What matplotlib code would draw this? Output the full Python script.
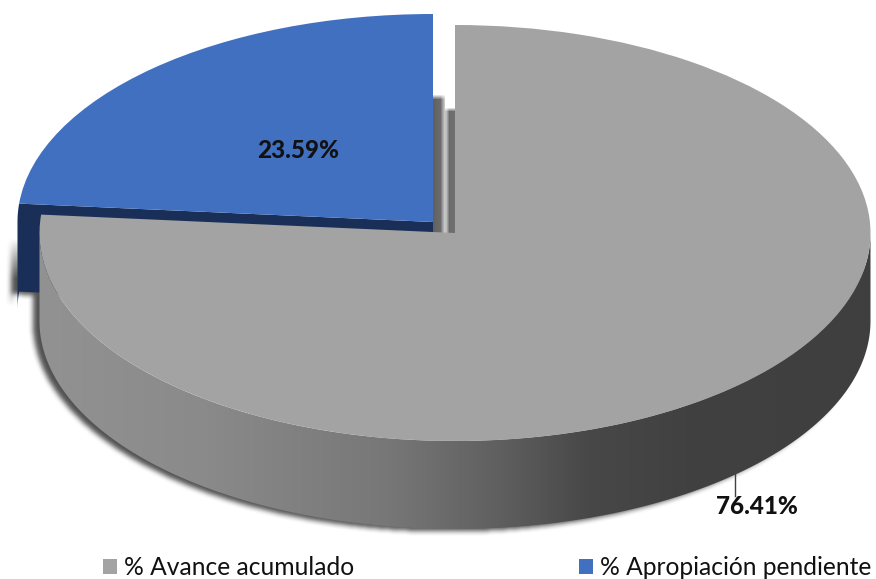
import numpy as np
import matplotlib
matplotlib.use("Agg")
import matplotlib.pyplot as plt
from matplotlib.colors import LinearSegmentedColormap
from matplotlib.patches import Patch, Polygon
from matplotlib.path import Path
from matplotlib.transforms import Affine2D

# ---- data ----
categories = ["% Avance acumulado", "% Apropiación pendiente"]
values = [76.41, 23.59]
colors = ["#a3a3a3", "#4170c1"]

# ---- geometry / style ----
W, H = 876, 579
RX, RY, DEPTH = 415.5, 208, 88
C_GREY = (455, 233)
C_BLUE = (433, 222)
DARK_BLUE = "#1a2f58"
plt.rcParams["font.family"] = ["Lato", "DejaVu Sans"]

fig = plt.figure(figsize=(W / 100, H / 100), dpi=100)
ax = fig.add_axes([0, 0, 1, 1])

wedges, _ = ax.pie(values, colors=colors, startangle=90, counterclock=False,
                   wedgeprops={"linewidth": 0})
ax.set_aspect("auto")
ax.set_xlim(0, W)
ax.set_ylim(H, 0)
ax.axis("off")

for w, c in zip(wedges, (C_GREY, C_BLUE)):
    w.set_transform(Affine2D().scale(RX, -RY).translate(*c) + ax.transData)
    w.set_zorder(6)


def ell(c, th):
    th = np.radians(th)
    return np.column_stack([c[0] + RX * np.cos(th), c[1] - RY * np.sin(th)])


split = 90 + 360 * values[1] / sum(values)   # angle of the slice boundary

# outer wall of the grey slice
th_front = np.linspace(180, 360, 200)
top = ell(C_GREY, th_front)
grey_wall = np.vstack([top, (top + [0, DEPTH])[::-1]])

# visible walls of the blue slice
p_edge = ell(C_BLUE, np.array([split]))[0]
blue_arc = ell(C_BLUE, np.linspace(split, 180, 10))
blue_wall = np.vstack([[C_BLUE], [p_edge],
                       blue_arc,
                       (blue_arc + [0, DEPTH])[::-1],
                       [np.array(C_BLUE) + [0, DEPTH]]])
ax.add_patch(Polygon(blue_wall, closed=True, fc=DARK_BLUE, ec="none", zorder=3))

# gradient on grey wall
cmap = LinearSegmentedColormap.from_list("wall", [
    (0.00, "#929292"), (0.20, "#8a8a8a"), (0.42, "#777777"),
    (0.55, "#606060"), (0.66, "#484848"), (0.78, "#414141"), (1.00, "#3f3f3f")])
im = ax.imshow(np.linspace(0, 1, 512)[None, :], cmap=cmap, aspect="auto",
               extent=(39, 871, 560, 200), zorder=4)
clip = Polygon(grey_wall, closed=True, transform=ax.transData)
im.set_clip_path(clip)
ax.set_xlim(0, W)
ax.set_ylim(H, 0)

# soft shadow behind the solid
yy, xx = np.mgrid[0:H, 0:W]
pts = np.column_stack([xx.ravel() + 8, yy.ravel() - 1])
mask = (Path(grey_wall).contains_points(pts) |
        Path(blue_wall).contains_points(pts)).reshape(H, W).astype(float)
kernel = np.ones(6) / 6
for _ in range(2):
    mask = np.apply_along_axis(lambda r: np.convolve(r, kernel, "same"), 0, mask)
    mask = np.apply_along_axis(lambda r: np.convolve(r, kernel, "same"), 1, mask)
rgba = np.zeros((H, W, 4))
rgba[..., :3] = 0.25
rgba[..., 3] = mask * 0.9 * np.clip((yy - 238) / 40, 0, 1)
ax.imshow(rgba, extent=(0, W, H, 0), aspect="auto", zorder=2)
ax.set_xlim(0, W)
ax.set_ylim(H, 0)

# shaded gap between the separated slices
gx = np.arange(433, 456)
gy = np.arange(90, 234)
shade = np.interp(gx, [433, 440, 444, 446, 449, 455],
                  [0.38, 0.42, 0.78, 0.74, 0.42, 0.44])
fade_a = np.clip((gy - 94) / 5, 0, 1)
fade_b = np.clip((gy - 107) / 4, 0, 1)
gap = np.ones((gy.size, gx.size))
for i, x in enumerate(gx):
    f = fade_a if x < 445 else fade_b
    gap[:, i] = 1 - (1 - shade[i]) * f
ax.imshow(gap, cmap="gray", vmin=0, vmax=1, aspect="auto",
          extent=(433, 456, 234, 90), zorder=3, interpolation="bilinear")
ax.set_xlim(0, W)
ax.set_ylim(H, 0)

# labels and leader
ax.plot([735, 735], [472, 496], color="#404040", lw=1, zorder=7)
label_xy = [(757, 506), (298, 150)]
for v, (x, y) in zip(values, label_xy):
    ax.text(x, y, f"{v:.2f}%", ha="center", va="center", fontsize=17.5,
            fontweight="black", color="#111111", zorder=8)

# legend
handles = [Patch(fc=c, ec="none") for c in colors]
ax.legend(handles, categories, loc="lower left", bbox_to_anchor=(103 / W, 0.0),
          ncol=2, frameon=False, fontsize=17.7, handlelength=0.57, handleheight=0.57,
          handletextpad=0.28, columnspacing=9.15, borderpad=0, borderaxespad=0,
          labelcolor="#111111")

fig.savefig("out.png", dpi=100)
